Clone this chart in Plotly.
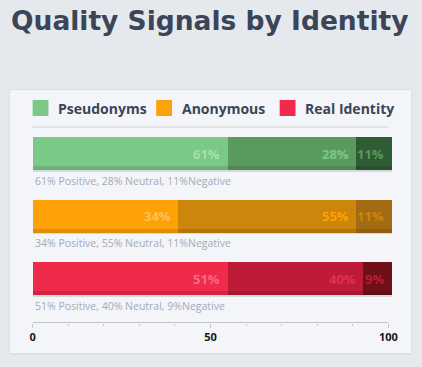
import plotly.graph_objects as go

# ---- data ----
groups = ["Pseudonyms", "Anonymous", "Real Identity"]
positive = [61, 34, 51]
neutral = [28, 55, 40]
negative = [11, 11, 9]
# bar segment lengths as drawn on the 0-100 axis
pos_len = [54.7, 40.8, 54.7]
neu_len = [36.1, 50.0, 38.1]
neg_len = [10.0, 10.0, 8.0]
axis_ticks = [0, 50, 100]

# ---- styles ----
W, H = 422, 367
BG = "#e5e8ed"
CARD = "#f3f5f8"
TEXT = "#3b4557"
FONT = "Open Sans"
seg_colors = [
    ["#7bc987", "#5a9a5f", "#2f5b35"],
    ["#fda106", "#cc860c", "#a46c12"],
    ["#ef2a4b", "#bd1b38", "#6f1018"],
]
strip_colors = [
    ["#6cb377", "#4f8954", "#284f2d"],
    ["#e08d05", "#b3750a", "#8f5e0f"],
    ["#d42442", "#a51830", "#5f0e15"],
]
label_colors = [
    ["#a3e3ab", "#7bc987", "#5a9a5f"],
    ["#ffc15a", "#fda106", "#cc860c"],
    ["#f56c84", "#e3304f", "#bd1b38"],
]

def xp(px):
    return px / W

def yp(py):
    return 1 - py / H

rows = list(range(len(groups)))
row_px = 62.5           # pixel spacing between rows
bar_w = 33 / row_px     # bar thickness in row units
strip_w = 4 / row_px

fig = go.Figure()

lens = [pos_len, neu_len, neg_len]
vals = [positive, neutral, negative]

# shadow under bars
totals = [pos_len[i] + neu_len[i] + neg_len[i] for i in rows]
fig.add_trace(go.Bar(
    y=rows, x=totals, orientation="h", base=0,
    width=bar_w, offset=-bar_w / 2 + 1.5 / row_px,
    marker=dict(color="rgba(60,70,90,0.16)", line=dict(width=0)),
    hoverinfo="skip", showlegend=False,
))

for s in range(3):
    bases = [sum(lens[k][i] for k in range(s)) for i in rows]
    fig.add_trace(go.Bar(
        y=rows, x=lens[s], base=bases, orientation="h",
        width=bar_w, offset=-bar_w / 2,
        marker=dict(color=[seg_colors[i][s] for i in rows], line=dict(width=0)),
        hoverinfo="skip", showlegend=False,
    ))
    fig.add_trace(go.Bar(
        y=rows, x=lens[s], base=bases, orientation="h",
        width=strip_w, offset=bar_w / 2 - strip_w,
        marker=dict(color=[strip_colors[i][s] for i in rows], line=dict(width=0)),
        hoverinfo="skip", showlegend=False,
    ))

annotations = []
# in-bar labels
for i in rows:
    end = 0
    for s in range(3):
        end += lens[s][i]
        annotations.append(dict(
            x=end, y=i, xref="x", yref="y", xanchor="right", yanchor="middle",
            xshift=-5, yshift=0, showarrow=False,
            text=f"{vals[s][i]}%",
            font=dict(family=FONT, size=13, color=label_colors[i][s], weight=700),
        ))
    annotations.append(dict(
        x=0, y=i, xref="x", yref="y", xanchor="left", yanchor="middle",
        yshift=-27, showarrow=False,
        text=f"{positive[i]}% Positive, {neutral[i]}% Neutral, {negative[i]}%Negative",
        font=dict(family=FONT, size=10.5, color="#a3abb9"),
    ))

# title
annotations.append(dict(
    x=xp(6), y=yp(21), xref="paper", yref="paper", xanchor="left", yanchor="middle",
    showarrow=False, text="Quality Signals by Identity",
    font=dict(family="DejaVu Sans", size=26.5, color=TEXT, weight=700),
))

shapes = [
    # card shadow + card
    dict(type="rect", xref="paper", yref="paper", x0=xp(6), x1=xp(414), y0=yp(89), y1=yp(355),
         fillcolor="#dcdfe5", line=dict(width=0), layer="below"),
    dict(type="rect", xref="paper", yref="paper", x0=xp(7), x1=xp(413), y0=yp(90), y1=yp(353),
         fillcolor=CARD, line=dict(width=0), layer="below"),
    # legend divider
    dict(type="line", xref="paper", yref="paper", x0=xp(30), x1=xp(390), y0=yp(127), y1=yp(127),
         line=dict(color="#cfd2d7", width=1), layer="below"),
]

# legend
legend_x = [30, 155, 280]
for i, g in enumerate(groups):
    lx = legend_x[i]
    shapes.append(dict(type="rect", xref="paper", yref="paper",
                       x0=xp(lx), x1=xp(lx + 16), y0=yp(116), y1=yp(100),
                       fillcolor=seg_colors[i][0], line=dict(width=0)))
    annotations.append(dict(
        x=xp(lx + 24), y=yp(108), xref="paper", yref="paper", xanchor="left", yanchor="middle",
        showarrow=False, text=g,
        font=dict(family=FONT, size=14, color=TEXT, weight=700),
    ))

top_px, bot_px = 130, 322.5
c0 = 153.5
x_max = 102
fig.update_layout(
    width=W, height=H,
    margin=dict(l=0, r=0, t=0, b=0),
    paper_bgcolor=BG, plot_bgcolor="rgba(0,0,0,0)",
    barmode="overlay", bargap=0,
    showlegend=False,
    xaxis=dict(
        domain=[xp(30), xp(30 + 3.6 * x_max)], range=[0, x_max],
        tickvals=axis_ticks, ticktext=[str(t) for t in axis_ticks],
        ticks="outside", ticklen=4, tickcolor="#c4c6ca", tickwidth=1,
        minor=dict(tickvals=list(range(10, 100, 10)), ticks="outside", ticklen=2, tickcolor="#c4c6ca"),
        showline=False,
        showgrid=False, zeroline=False,
        tickfont=dict(family=FONT, size=11, color="#151515", weight=700),
        fixedrange=True,
    ),
    yaxis=dict(
        domain=[yp(bot_px), yp(top_px)],
        range=[(bot_px - c0) / row_px, (top_px - c0) / row_px],
        visible=False, fixedrange=True,
    ),
    annotations=annotations,
    shapes=shapes + [
        dict(type="line", xref="x", yref="paper", x0=axis_ticks[0], x1=axis_ticks[-1],
             y0=yp(bot_px), y1=yp(bot_px), line=dict(color="#c4c6ca", width=1)),
    ],
)

fig.write_html(
    "out.html",
    config={"displayModeBar": False},
    post_script="document.body.style.margin='0';document.body.style.overflow='hidden';",
)
